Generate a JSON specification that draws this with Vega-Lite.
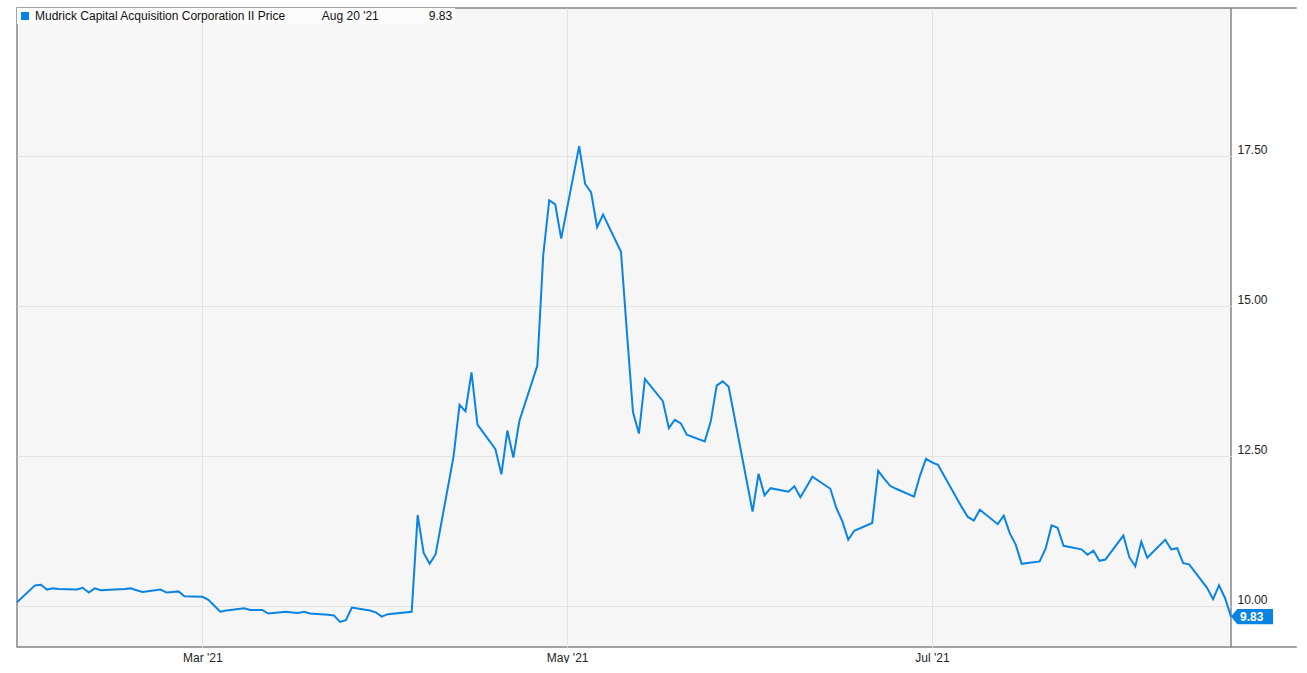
{
  "$schema": "https://vega.github.io/schema/vega-lite/v6.json",
  "width": 1214,
  "height": 639,
  "padding": {"left": 13, "top": 7, "right": 0, "bottom": 0},
  "autosize": {"type": "pad"},
  "background": "white",
  "config": {
    "font": "Liberation Sans",
    "view": {"fill": "#f6f6f6", "stroke": "#858585", "strokeWidth": 1.5}
  },
  "datasets": {
    "price": [
      {"date": "2021-01-29", "price": 10.07},
      {"date": "2021-02-01", "price": 10.35},
      {"date": "2021-02-02", "price": 10.36},
      {"date": "2021-02-03", "price": 10.28},
      {"date": "2021-02-04", "price": 10.30},
      {"date": "2021-02-05", "price": 10.29},
      {"date": "2021-02-08", "price": 10.28},
      {"date": "2021-02-09", "price": 10.31},
      {"date": "2021-02-10", "price": 10.23},
      {"date": "2021-02-11", "price": 10.30},
      {"date": "2021-02-12", "price": 10.27},
      {"date": "2021-02-16", "price": 10.29},
      {"date": "2021-02-17", "price": 10.30},
      {"date": "2021-02-18", "price": 10.27},
      {"date": "2021-02-19", "price": 10.24},
      {"date": "2021-02-22", "price": 10.28},
      {"date": "2021-02-23", "price": 10.23},
      {"date": "2021-02-24", "price": 10.24},
      {"date": "2021-02-25", "price": 10.25},
      {"date": "2021-02-26", "price": 10.17},
      {"date": "2021-03-01", "price": 10.16},
      {"date": "2021-03-02", "price": 10.11},
      {"date": "2021-03-03", "price": 10.01},
      {"date": "2021-03-04", "price": 9.91},
      {"date": "2021-03-05", "price": 9.93},
      {"date": "2021-03-08", "price": 9.97},
      {"date": "2021-03-09", "price": 9.94},
      {"date": "2021-03-10", "price": 9.94},
      {"date": "2021-03-11", "price": 9.94},
      {"date": "2021-03-12", "price": 9.88},
      {"date": "2021-03-15", "price": 9.91},
      {"date": "2021-03-16", "price": 9.90},
      {"date": "2021-03-17", "price": 9.89},
      {"date": "2021-03-18", "price": 9.91},
      {"date": "2021-03-19", "price": 9.88},
      {"date": "2021-03-22", "price": 9.86},
      {"date": "2021-03-23", "price": 9.85},
      {"date": "2021-03-24", "price": 9.74},
      {"date": "2021-03-25", "price": 9.77},
      {"date": "2021-03-26", "price": 9.98},
      {"date": "2021-03-29", "price": 9.93},
      {"date": "2021-03-30", "price": 9.90},
      {"date": "2021-03-31", "price": 9.83},
      {"date": "2021-04-01", "price": 9.87},
      {"date": "2021-04-05", "price": 9.91},
      {"date": "2021-04-06", "price": 11.52},
      {"date": "2021-04-07", "price": 10.89},
      {"date": "2021-04-08", "price": 10.71},
      {"date": "2021-04-09", "price": 10.87},
      {"date": "2021-04-12", "price": 12.50},
      {"date": "2021-04-13", "price": 13.36},
      {"date": "2021-04-14", "price": 13.25},
      {"date": "2021-04-15", "price": 13.90},
      {"date": "2021-04-16", "price": 13.03},
      {"date": "2021-04-19", "price": 12.62},
      {"date": "2021-04-20", "price": 12.20},
      {"date": "2021-04-21", "price": 12.93},
      {"date": "2021-04-22", "price": 12.48},
      {"date": "2021-04-23", "price": 13.09},
      {"date": "2021-04-26", "price": 14.01},
      {"date": "2021-04-27", "price": 15.86},
      {"date": "2021-04-28", "price": 16.77},
      {"date": "2021-04-29", "price": 16.70},
      {"date": "2021-04-30", "price": 16.13},
      {"date": "2021-05-03", "price": 17.67},
      {"date": "2021-05-04", "price": 17.04},
      {"date": "2021-05-05", "price": 16.90},
      {"date": "2021-05-06", "price": 16.32},
      {"date": "2021-05-07", "price": 16.53},
      {"date": "2021-05-10", "price": 15.91},
      {"date": "2021-05-11", "price": 14.55},
      {"date": "2021-05-12", "price": 13.24},
      {"date": "2021-05-13", "price": 12.88},
      {"date": "2021-05-14", "price": 13.79},
      {"date": "2021-05-17", "price": 13.42},
      {"date": "2021-05-18", "price": 12.97},
      {"date": "2021-05-19", "price": 13.11},
      {"date": "2021-05-20", "price": 13.05},
      {"date": "2021-05-21", "price": 12.86},
      {"date": "2021-05-24", "price": 12.75},
      {"date": "2021-05-25", "price": 13.08},
      {"date": "2021-05-26", "price": 13.68},
      {"date": "2021-05-27", "price": 13.75},
      {"date": "2021-05-28", "price": 13.66},
      {"date": "2021-06-01", "price": 11.58},
      {"date": "2021-06-02", "price": 12.21},
      {"date": "2021-06-03", "price": 11.85},
      {"date": "2021-06-04", "price": 11.97},
      {"date": "2021-06-07", "price": 11.91},
      {"date": "2021-06-08", "price": 12.00},
      {"date": "2021-06-09", "price": 11.82},
      {"date": "2021-06-10", "price": 11.99},
      {"date": "2021-06-11", "price": 12.16},
      {"date": "2021-06-14", "price": 11.96},
      {"date": "2021-06-15", "price": 11.64},
      {"date": "2021-06-16", "price": 11.42},
      {"date": "2021-06-17", "price": 11.11},
      {"date": "2021-06-18", "price": 11.26},
      {"date": "2021-06-21", "price": 11.39},
      {"date": "2021-06-22", "price": 12.26},
      {"date": "2021-06-23", "price": 12.13},
      {"date": "2021-06-24", "price": 12.01},
      {"date": "2021-06-25", "price": 11.96},
      {"date": "2021-06-28", "price": 11.83},
      {"date": "2021-06-29", "price": 12.18},
      {"date": "2021-06-30", "price": 12.46},
      {"date": "2021-07-01", "price": 12.40},
      {"date": "2021-07-02", "price": 12.36},
      {"date": "2021-07-06", "price": 11.65},
      {"date": "2021-07-07", "price": 11.49},
      {"date": "2021-07-08", "price": 11.43},
      {"date": "2021-07-09", "price": 11.61},
      {"date": "2021-07-12", "price": 11.37},
      {"date": "2021-07-13", "price": 11.51},
      {"date": "2021-07-14", "price": 11.22},
      {"date": "2021-07-15", "price": 11.03},
      {"date": "2021-07-16", "price": 10.71},
      {"date": "2021-07-19", "price": 10.75},
      {"date": "2021-07-20", "price": 10.96},
      {"date": "2021-07-21", "price": 11.35},
      {"date": "2021-07-22", "price": 11.31},
      {"date": "2021-07-23", "price": 11.01},
      {"date": "2021-07-26", "price": 10.95},
      {"date": "2021-07-27", "price": 10.86},
      {"date": "2021-07-28", "price": 10.93},
      {"date": "2021-07-29", "price": 10.76},
      {"date": "2021-07-30", "price": 10.78},
      {"date": "2021-08-02", "price": 11.18},
      {"date": "2021-08-03", "price": 10.82},
      {"date": "2021-08-04", "price": 10.67},
      {"date": "2021-08-05", "price": 11.08},
      {"date": "2021-08-06", "price": 10.81},
      {"date": "2021-08-09", "price": 11.11},
      {"date": "2021-08-10", "price": 10.95},
      {"date": "2021-08-11", "price": 10.97},
      {"date": "2021-08-12", "price": 10.72},
      {"date": "2021-08-13", "price": 10.70},
      {"date": "2021-08-16", "price": 10.31},
      {"date": "2021-08-17", "price": 10.12},
      {"date": "2021-08-18", "price": 10.35},
      {"date": "2021-08-19", "price": 10.14},
      {"date": "2021-08-20", "price": 9.83}
    ],
    "frame": [
      {"from": "2021-08-20", "to": "2021-08-31", "level": 19.973},
      {"from": "2021-08-20", "to": "2021-08-31", "level": 9.323}
    ]
  },
  "encoding": {
    "x": {"type": "temporal",
          "scale": {"type": "utc", "domain": [{"year": 2021, "month": 1, "date": 29, "utc": true}, {"year": 2021, "month": 8, "date": 20, "utc": true}]},
          "axis": {"title": null, "labelExpr": "utcFormat(datum.value, '%b') + \" '\" + utcFormat(datum.value, '%y')",
                   "values": [{"year": 2021, "month": 3, "date": 1, "utc": true}, {"year": 2021, "month": 5, "date": 1, "utc": true}, {"year": 2021, "month": 7, "date": 1, "utc": true}],
                   "grid": true, "gridColor": "#e3e3e3", "gridWidth": 1, "domain": false, "ticks": false,
                   "labelPadding": 5, "labelFontSize": 12, "labelColor": "#222", "labelFont": "Liberation Sans"}},
    "y": {"type": "quantitative",
          "scale": {"domain": [9.323, 19.973], "nice": false, "zero": false},
          "axis": {"title": null, "orient": "right", "values": [10, 12.5, 15, 17.5], "format": ".2f",
                   "grid": true, "gridColor": "#e3e3e3", "gridWidth": 1, "domain": false, "ticks": false,
                   "labelPadding": 6, "labelAlign": "left", "labelBaseline": "alphabetic", "labelOffset": -3,
                   "labelFontSize": 12, "labelColor": "#222", "labelFont": "Liberation Sans"}}
  },
  "layer": [
    {
      "data": {"name": "frame"},
      "mark": {"type": "rule", "color": "#858585", "strokeWidth": 1.5},
      "encoding": {
        "x": {"field": "from", "type": "temporal"},
        "x2": {"field": "to"},
        "y": {"field": "level", "type": "quantitative"}
      }
    },
    {
      "data": {"name": "price"},
      "mark": {"type": "line", "strokeWidth": 2, "interpolate": "linear"},
      "encoding": {
        "x": {"field": "date", "type": "temporal"},
        "y": {"field": "price", "type": "quantitative"},
        "color": {"datum": "Mudrick Capital Acquisition Corporation II Price\u00a0\u00a0\u00a0\u00a0\u00a0\u00a0\u00a0\u00a0\u00a0\u00a0\u00a0Aug 20 '21\u00a0\u00a0\u00a0\u00a0\u00a0\u00a0\u00a0\u00a0\u00a0\u00a0\u00a0\u00a0\u00a0\u00a0\u00a09.83",
                  "type": "nominal",
                  "scale": {"range": ["#0a84e4"]},
                  "legend": {"title": null, "orient": "top-left", "offset": 0, "padding": 2,
                             "fillColor": "#fbfbfb", "symbolType": "square", "symbolSize": 64,
                             "symbolStrokeWidth": 0, "symbolFillColor": "#0a84e4",
                             "labelFontSize": 12, "labelFont": "Liberation Sans", "labelColor": "#111",
                             "labelLimit": 1000, "labelOffset": 4,
                             "encode": {"symbols": {"update": {"fill": {"value": "#0a84e4"}, "strokeWidth": {"value": 0}, "opacity": {"value": 1}}}}}}
      }
    },
    {
      "data": {"name": "price"},
      "transform": [{"filter": "time(datum.date) == utc(2021, 7, 20)"}],
      "mark": {"type": "point", "shape": "M0,0L0.15,-0.18L1,-0.18L1,0.18L0.15,0.18Z", "size": 7056, "filled": true, "color": "#0a84e4", "opacity": 1, "strokeWidth": 0},
      "encoding": {
        "x": {"field": "date", "type": "temporal"},
        "y": {"field": "price", "type": "quantitative"}
      }
    },
    {
      "data": {"name": "price"},
      "transform": [{"filter": "time(datum.date) == utc(2021, 7, 20)"}],
      "mark": {"type": "text", "align": "left", "baseline": "middle", "dx": 9, "dy": 0, "color": "white", "fontWeight": "bold", "fontSize": 12, "font": "Liberation Sans"},
      "encoding": {
        "x": {"field": "date", "type": "temporal"},
        "y": {"field": "price", "type": "quantitative"},
        "text": {"field": "price", "type": "quantitative", "format": ".2f"}
      }
    }
  ]
}
